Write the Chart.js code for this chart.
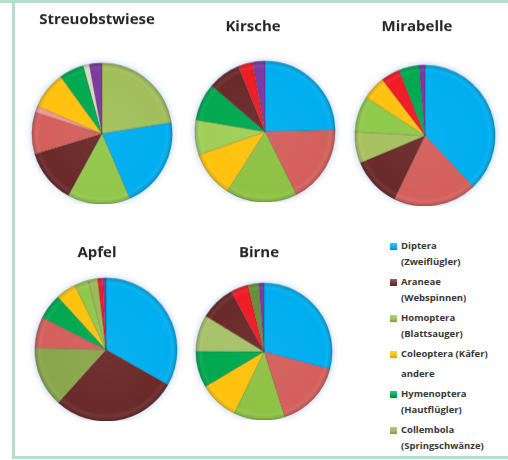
<!DOCTYPE html>
<html>
<head>
<meta charset="utf-8">
<script src="https://cdn.jsdelivr.net/npm/chart.js@4.4.1/dist/chart.umd.min.js"></script>
<style>
  html, body { margin: 0; padding: 0; background: #fff; }
  body { width: 508px; height: 460px; position: relative; overflow: hidden; font-family: "Open Sans", sans-serif; }
  .frame-top { position: absolute; left: 0; top: 0; width: 508px; height: 3px; background: #b4e0cb; }
  .frame { position: absolute; left: 12px; top: 0; width: 493px; height: 456px; border-left: 3px solid #b4e0cb; border-bottom: 3px solid #b4e0cb; }
  .pie { position: absolute; }
  #legend { position: absolute; left: 390px; top: 238px; font-size: 9.5px; font-weight: 700; color: #383838; line-height: 16px; }
  #legend .item { position: relative; padding-left: 11px; margin-bottom: 4px; white-space: nowrap; }
  #legend .box { position: absolute; left: 0; top: 5px; width: 7px; height: 7px; }
</style>
</head>
<body>
<div class="frame-top"></div>
<div class="frame"></div>
<div id="legend"></div>

<script>
  // Anteile (%) je Standort, im Uhrzeigersinn ab 12 Uhr
  const pieTitles = ['Streuobstwiese', 'Kirsche', 'Mirabelle', 'Apfel', 'Birne'];

  const streuobstwieseValues = [22.5, 21.0, 14.4, 12.4, 9.6, 1.4, 8.6, 5.7, 1.4, 2.9];
  const kirscheValues = [24.6, 18.0, 16.4, 10.6, 8.0, 8.6, 7.5, 3.4, 2.8];
  const mirabelleValues = [37.9, 19.3, 11.5, 7.2, 8.3, 5.4, 4.4, 4.6, 1.4];
  const apfelValues = [33.2, 28.5, 13.7, 7.0, 5.8, 4.6, 3.2, 2.1, 1.1, 0.8];
  const birneValues = [29.1, 16.0, 12.1, 9.3, 8.6, 8.6, 8.3, 4.2, 2.6, 1.2];

  const streuobstwieseColors = ['#a2bf5c', '#00aeef', '#93c74b', '#6b2a2a', '#d4605c', '#f29a96', '#ffc20e', '#00a950', '#ddd9c3', '#7a3aa3'];
  const kirscheColors = ['#00aeef', '#d4605c', '#8fc244', '#ffc20e', '#9fcf58', '#00a950', '#6b2a2a', '#ee1c25', '#7a3aa3'];
  const mirabelleColors = ['#00aeef', '#d4605c', '#6b2a2a', '#a7c15e', '#8fca4a', '#ffc20e', '#ee1c25', '#00a950', '#7a3aa3'];
  const apfelColors = ['#00aeef', '#6b2a2a', '#8aa64a', '#d4605c', '#00a950', '#ffc20e', '#93c74b', '#9bbb59', '#ee1c25', '#7a3aa3'];
  const birneColors = ['#00aeef', '#d4605c', '#8fc244', '#ffc20e', '#00a950', '#a8c26a', '#6b2a2a', '#ee1c25', '#6a8f3a', '#7a3aa3'];

  const legendLabels = [
    ['Diptera', '(Zweiflügler)'],
    ['Araneae', '(Webspinnen)'],
    ['Homoptera', '(Blattsauger)'],
    ['Coleoptera (Käfer)'],
    ['andere'],
    ['Hymenoptera', '(Hautflügler)'],
    ['Collembola', '(Springschwänze)']
  ];
  const legendColors = ['#00aeef', '#7b2f2f', '#93c74b', '#ffc20e', null, '#00a950', '#9bbb59'];

  const pieValues = [streuobstwieseValues, kirscheValues, mirabelleValues, apfelValues, birneValues];
  const pieColors = [streuobstwieseColors, kirscheColors, mirabelleColors, apfelColors, birneColors];

  // title centre (tx, ty) and pie centre/radius per panel
  const pieLayout = [
    { tx: 97, ty: 20, cx: 102, cy: 133, r: 70 },
    { tx: 253, ty: 27, cx: 265, cy: 131, r: 70 },
    { tx: 417, ty: 27, cx: 425, cy: 135, r: 70 },
    { tx: 97, ty: 253, cx: 106, cy: 349, r: 71 },
    { tx: 259, ty: 253, cx: 264, cy: 351, r: 68 }
  ];

  const titleFont = 'bold 15px "Open Sans"';

  function shade(hex, f) {
    const n = parseInt(hex.slice(1), 16);
    let c = [n >> 16, (n >> 8) & 255, n & 255];
    c = c.map(v => f >= 0 ? v + (255 - v) * f : v * (1 + f));
    return 'rgb(' + c.map(v => Math.round(v)).join(',') + ')';
  }

  // bevelled look: flat face, thin light edge and a darker rim
  function sliceFill(colors) {
    return (c) => {
      const base = colors[c.dataIndex];
      const area = c.chart.chartArea;
      if (!area) return base;
      const x = (area.left + area.right) / 2;
      const y = (area.top + area.bottom) / 2;
      const r = Math.min(area.width, area.height) / 2;
      const g = c.chart.ctx.createRadialGradient(x, y, 0, x, y, r);
      g.addColorStop(0, shade(base, 0.04));
      g.addColorStop(0.88, base);
      g.addColorStop(0.93, shade(base, 0.06));
      g.addColorStop(1, shade(base, -0.16));
      return g;
    };
  }

  const glowPlugin = {
    id: 'glow',
    beforeDatasetsDraw(chart) {
      const arc = chart.getDatasetMeta(0).data[0];
      if (!arc) return;
      const ctx = chart.ctx;
      ctx.save();
      ctx.shadowColor = 'rgba(80,140,215,0.5)';
      ctx.shadowBlur = 7;
      ctx.fillStyle = '#fff';
      ctx.beginPath();
      ctx.arc(arc.x, arc.y, arc.outerRadius - 0.5, 0, Math.PI * 2);
      ctx.fill();
      ctx.restore();
    }
  };

  // panel heading, placed independently of the pie centre
  const headingPlugin = {
    id: 'heading',
    afterDraw(chart, args, opts) {
      const ctx = chart.ctx;
      ctx.save();
      ctx.font = titleFont;
      ctx.fillStyle = '#262626';
      ctx.textAlign = 'center';
      ctx.textBaseline = 'middle';
      ctx.fillText(opts.text, opts.x, opts.y);
      ctx.restore();
    }
  };

  pieTitles.forEach((title, i) => {
    const L = pieLayout[i];
    const half = Math.abs(L.cx - L.tx) + L.r + 6;
    const left = L.tx - half;
    const width = half * 2;
    const top = L.ty - 20;
    const height = L.cy + L.r + 0.5 - top;

    const box = document.createElement('div');
    box.className = 'pie';
    box.style.left = left + 'px';
    box.style.top = top + 'px';
    box.style.width = width + 'px';
    box.style.height = height + 'px';
    const canvas = document.createElement('canvas');
    box.appendChild(canvas);
    document.body.appendChild(box);

    new Chart(canvas, {
      type: 'pie',
      data: {
        labels: pieValues[i].map((v, k) => k + 1),
        datasets: [{
          data: pieValues[i],
          backgroundColor: sliceFill(pieColors[i]),
          borderColor: 'rgba(40,40,40,0.3)',
          borderWidth: 0.6
        }]
      },
      options: {
        responsive: true,
        maintainAspectRatio: false,
        animation: false,
        layout: {
          padding: {
            left: (L.cx - L.r - 0.5) - left,
            right: left + width - (L.cx + L.r + 0.5),
            top: (L.cy - L.r - 0.5) - top,
            bottom: 0
          }
        },
        plugins: {
          legend: { display: false },
          tooltip: { enabled: false },
          title: { display: false },
          heading: { text: title, x: L.tx - left, y: L.ty - top }
        }
      },
      plugins: [glowPlugin, headingPlugin]
    });
  });

  const legend = document.getElementById('legend');
  legendLabels.forEach((lines, i) => {
    const item = document.createElement('div');
    item.className = 'item';
    if (legendColors[i]) {
      const sw = document.createElement('span');
      sw.className = 'box';
      sw.style.background = 'linear-gradient(' + shade(legendColors[i], 0.25) + ', ' + legendColors[i] + ' 60%, ' + shade(legendColors[i], -0.2) + ')';
      item.appendChild(sw);
    }
    lines.forEach(t => {
      const line = document.createElement('div');
      line.textContent = t;
      item.appendChild(line);
    });
    legend.appendChild(item);
  });
</script>
</body>
</html>
